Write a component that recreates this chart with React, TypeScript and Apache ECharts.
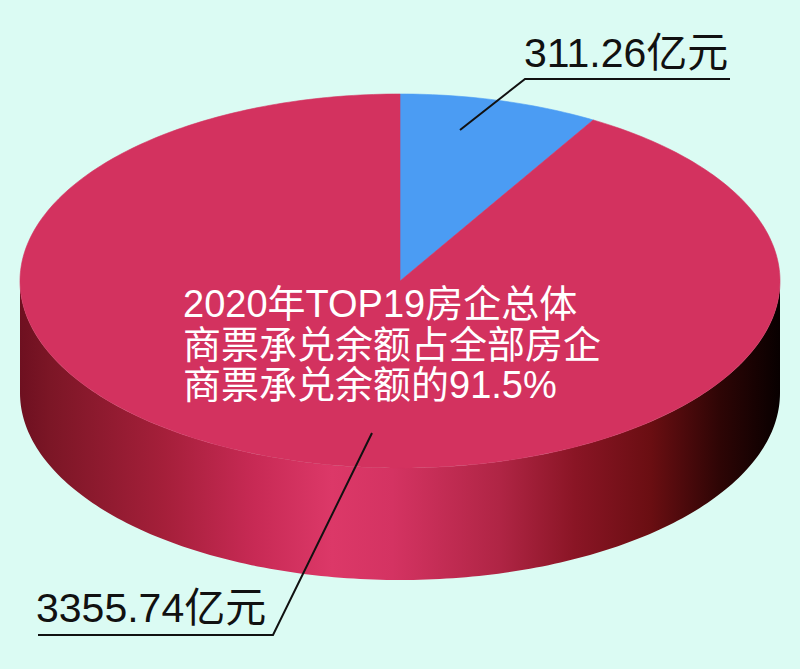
import React, { useEffect, useRef } from "react";
import * as echarts from "echarts";

// Slices: the remaining firms and the TOP19 firms (亿元)
const sliceNames = ["其他房企", "TOP19房企"];
const sliceValues = [311.26, 3355.74];
const sliceColors = ["#4b9cf3", "#d3325f"];
const valueUnit = "亿元";
const noteLines = ["2020年TOP19房企总体", "商票承兑余额占全部房企", "商票承兑余额的91.5%"];

// Disc geometry
const CX = 400;
const CY = 281;
const RX = 380;
const RY = 187;
const DEPTH = 112;

const FONT = "'Liberation Sans', 'Noto Sans CJK SC', sans-serif";

const sideGradient = () =>
  new echarts.graphic.LinearGradient(
    CX - RX,
    0,
    CX + RX,
    0,
    [
      { offset: 0, color: "#6e1020" },
      { offset: 0.04, color: "#7c1626" },
      { offset: 0.19, color: "#a51f3a" },
      { offset: 0.31, color: "#c82a55" },
      { offset: 0.41, color: "#dc3868" },
      { offset: 0.49, color: "#d43362" },
      { offset: 0.63, color: "#b02545" },
      { offset: 0.73, color: "#8a1525" },
      { offset: 0.83, color: "#6a0e12" },
      { offset: 0.92, color: "#2e0505" },
      { offset: 1, color: "#080000" },
    ],
    true
  );

const rimPoint = (t: number, dy = 0) => [CX + RX * Math.sin(t), CY - RY * Math.cos(t) + dy];

const arc = (from: number, to: number, dy = 0) => {
  const steps = Math.max(2, Math.ceil(Math.abs(to - from) / (Math.PI / 180)));
  const pts: number[][] = [];
  for (let k = 0; k <= steps; k++) pts.push(rimPoint(from + ((to - from) * k) / steps, dy));
  return pts;
};

function renderSlice(params: any, api: any) {
  const total = sliceValues.reduce((a, b) => a + b, 0);
  const i = params.dataIndex;
  const before = sliceValues.slice(0, i).reduce((a, b) => a + b, 0);
  const a0 = (before / total) * Math.PI * 2;
  const a1 = ((before + api.value(0)) / total) * Math.PI * 2;
  const children: any[] = [];

  // visible wall: front half of the rim
  const s0 = Math.max(a0, Math.PI / 2);
  const s1 = Math.min(a1, (Math.PI * 3) / 2);
  if (s1 > s0) {
    const pts = arc(s0, s1).concat(arc(s1, s0, DEPTH));
    children.push({
      type: "polygon",
      shape: { points: pts },
      style: { fill: sideGradient() },
    });
  }

  const topPts = [[CX, CY]].concat(arc(a0, a1));
  children.push({
    type: "polygon",
    shape: { points: topPts },
    style: { fill: sliceColors[i], stroke: sliceColors[i], lineWidth: 0.6 },
  });
  return { type: "group", children };
}

export default function App() {
  const ref = useRef<HTMLDivElement>(null);

  useEffect(() => {
    if (!ref.current) return;
    const chart = echarts.init(ref.current, null, { renderer: "svg" });
    const labelStyle = { fill: "#111", fontSize: 41, fontFamily: FONT };
    chart.setOption({
      animation: false,
      backgroundColor: "#dbfbf3",
      series: [
        {
          type: "custom",
          coordinateSystem: "none",
          renderItem: renderSlice,
          dimensions: ["value"],
          data: sliceValues.map((v, i) => ({ name: sliceNames[i], value: [v] })),
        },
      ],
      graphic: [
        ...noteLines.map((line, k) => ({
          type: "text",
          x: 183,
          y: 304 + k * 40.5,
          z: 10,
          style: {
            text: line,
            fill: "#ffffff",
            fontSize: 38,
            fontFamily: FONT,
            verticalAlign: "middle",
          },
        })),
        {
          type: "polyline",
          z: 10,
          shape: { points: [[460, 130], [525, 79], [730, 79]] },
          style: { stroke: "#111", lineWidth: 2, fill: null },
        },
        {
          type: "text",
          x: 524,
          y: 53,
          z: 10,
          style: { ...labelStyle, text: sliceValues[0].toFixed(2) + valueUnit, verticalAlign: "middle" },
        },
        {
          type: "polyline",
          z: 10,
          shape: { points: [[372, 433], [273, 635], [38, 635]] },
          style: { stroke: "#111", lineWidth: 2, fill: null },
        },
        {
          type: "text",
          x: 36,
          y: 608,
          z: 10,
          style: { ...labelStyle, text: sliceValues[1].toFixed(2) + valueUnit, verticalAlign: "middle" },
        },
      ],
    });
    return () => chart.dispose();
  }, []);

  return (
    <div
      ref={ref}
      style={{ position: "absolute", left: 0, top: 0, width: 800, height: 669 }}
    />
  );
}
